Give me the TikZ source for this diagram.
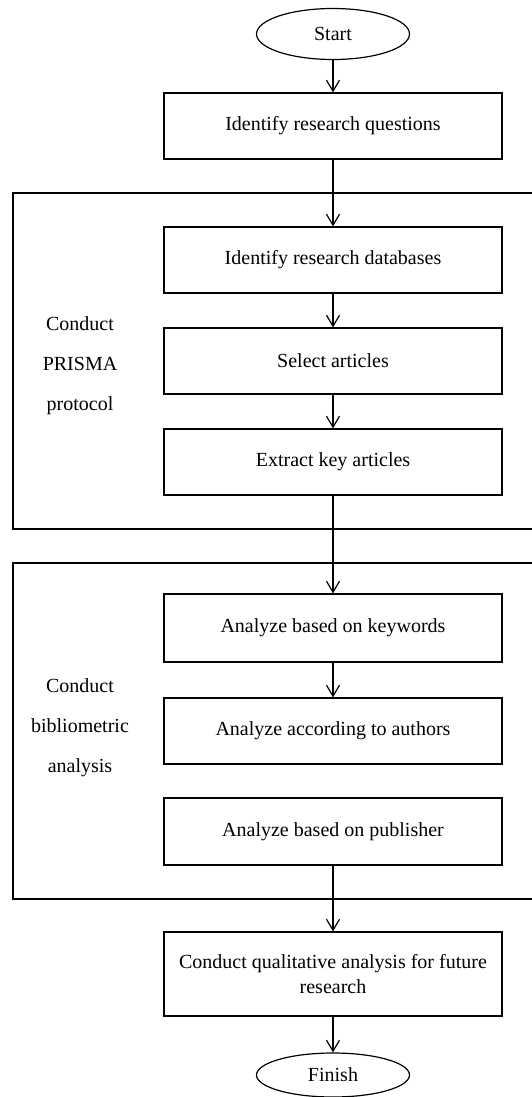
\documentclass[tikz,border=0pt]{standalone}
\usepackage{fontspec}
\setmainfont{Liberation Serif}
\usetikzlibrary{arrows.meta,shapes.geometric}
\begin{document}
\begin{tikzpicture}[x=1pt,y=-1pt,
  every node/.style={font=\fontsize{20}{25}\selectfont},
  stepbox/.style={draw, line width=1.2pt, minimum width=338pt, minimum height=66pt, inner sep=0pt, align=center},
  term/.style={draw, ellipse, line width=1.2pt, inner sep=0pt, minimum width=153pt},
  arr/.style={-{Straight Barb[length=11pt,width=13pt]}, line width=1.2pt},
  grp/.style={line width=1.4pt},
  lab/.style={align=center, font=\fontsize{20}{40}\selectfont}]
\useasboundingbox (0,0) rectangle (532,1097);
% groups
\coordinate (g1tr) at (532,193);
\coordinate (g1tl) at (13,193);
\coordinate (g1bl) at (13,529);
\coordinate (g1br) at (532,529);
\coordinate (g2tr) at (532,563);
\coordinate (g2tl) at (13,563);
\coordinate (g2bl) at (13,899);
\coordinate (g2br) at (532,899);
\draw[grp] (g1tr) -- (g1tl) -- (g1bl) -- (g1br);
\draw[grp] (g2tr) -- (g2tl) -- (g2bl) -- (g2br);
% nodes
\node[term, minimum height=51pt] (start) at (333,34) {Start};
\node[stepbox] (b1) at (333,126) {Identify research questions};
\node[stepbox] (b2) at (333,260) {Identify research databases};
\node[stepbox] (b3) at (333,361) {Select articles};
\node[stepbox] (b4) at (333,462) {Extract key articles};
\node[stepbox, minimum height=68pt] (b5) at (333,628) {Analyze based on keywords};
\node[stepbox] (b6) at (333,731) {Analyze according to authors};
\node[stepbox, minimum height=67pt] (b7) at (333,831.5) {Analyze based on publisher};
\node[stepbox, minimum height=84pt] (b8) at (333,974) {Conduct qualitative analysis for future\\research};
\node[term, minimum height=44pt] (finish) at (333,1075) {Finish};
\node[lab] (l1) at (80,366) {Conduct\\PRISMA\\protocol};
\node[lab] (l2) at (80,728) {Conduct\\bibliometric\\analysis};
% connectors
\draw[arr] (start) -- (b1);
\draw[arr] (b1) -- (b2);
\draw[arr] (b2) -- (b3);
\draw[arr] (b3) -- (b4);
\draw[arr] (b4) -- (b5);
\draw[arr] (b5) -- (b6);
\draw[arr] (b7) -- (b8);
\draw[arr] (b8) -- (finish);
\end{tikzpicture}
\end{document}
